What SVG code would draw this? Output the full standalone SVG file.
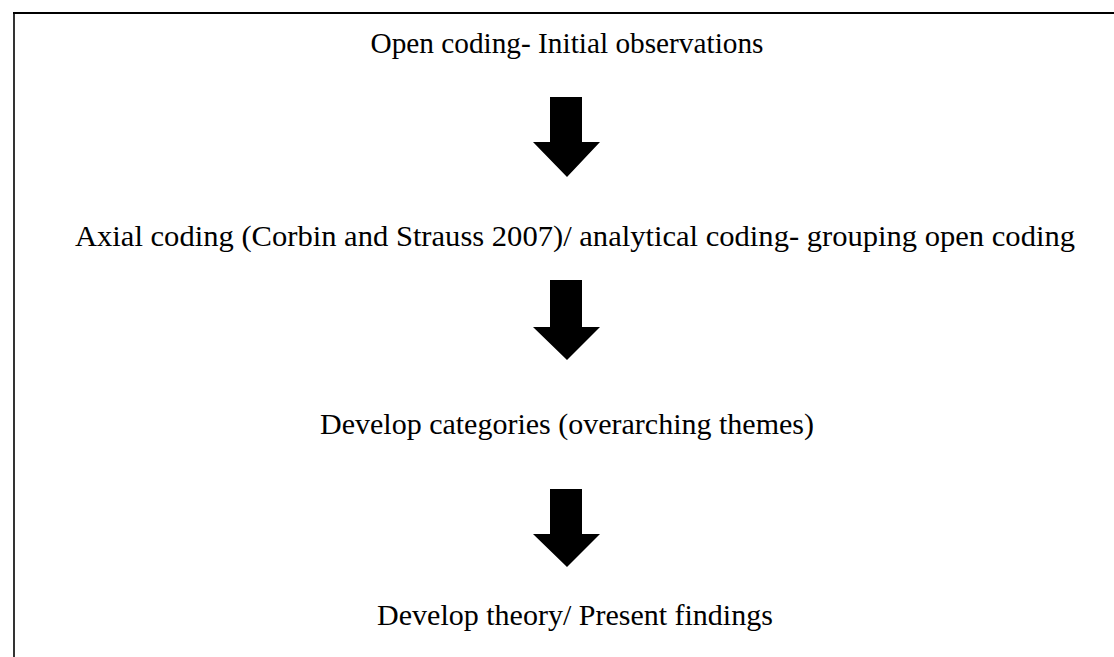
<svg xmlns="http://www.w3.org/2000/svg" width="1114" height="657" viewBox="0 0 1114 657">
<style>
.t{font-family:"Liberation Serif","Times New Roman",serif;font-size:30px;fill:#000;text-anchor:middle}
.arr{fill:#000}
</style>
<rect x="0" y="0" width="1114" height="657" fill="#fff"/>
<g id="frame">
<line x1="13" y1="13" x2="1114" y2="13" stroke="#000" stroke-width="2.2"/>
<line x1="14" y1="12" x2="14" y2="657" stroke="#000" stroke-width="1.6"/>
</g>
<g id="node1"><text class="t" x="567" y="53" textLength="393" lengthAdjust="spacingAndGlyphs">Open coding- Initial observations</text></g>
<g id="node2"><text class="t" x="575" y="246" textLength="1000" lengthAdjust="spacingAndGlyphs">Axial coding (Corbin and Strauss 2007)/ analytical coding- grouping open coding</text></g>
<g id="node3"><text class="t" x="567" y="434">Develop categories (overarching themes)</text></g>
<g id="node4"><text class="t" x="575" y="625">Develop theory/ Present findings</text></g>
<g id="connectors">
<polygon class="arr" points="550,97 582,97 582,142 600,142 567,177 533,142 550,142"/>
<polygon class="arr" points="550,280 582,280 582,327 600,327 567,360 533,327 550,327"/>
<polygon class="arr" points="550,489 582,489 582,534 600,534 567,567 533,534 550,534"/>
</g>
</svg>
